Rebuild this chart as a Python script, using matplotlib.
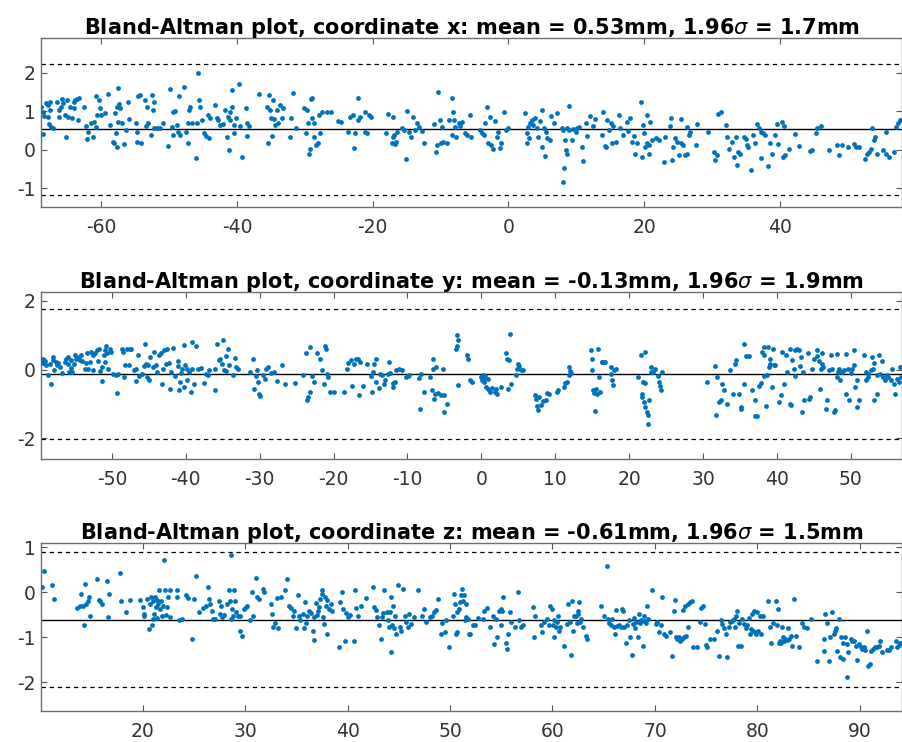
import matplotlib
matplotlib.use("Agg")
import matplotlib.pyplot as plt

plt.rcParams['font.family'] = ['DejaVu Sans']
plt.rcParams['axes.unicode_minus'] = False

pts_x = [
    (-68.9, 1.12), (-68.6, 0.99), (-68.4, 0.88), (-68.1, 1.21), (-67.8, 1.17), (-67.6, 1.23), (-67.5, 1.03),
    (-68.6, 0.41), (-67.9, 0.84), (-67.7, 0.67), (-67.4, 0.6), (-67.1, 0.58), (-66.6, 1.25), (-66.2, 1.03),
    (-66.0, 1.12), (-66.3, 0.86), (-65.8, 1.31), (-65.6, 1.21), (-65.3, 0.9), (-65.2, 0.34), (-65.1, 1.3),
    (-64.9, 0.86), (-64.6, 1.12), (-64.4, 0.82), (-64.1, 1.25), (-63.9, 1.3), (-63.6, 1.33), (-63.3, 1.34),
    (-64.0, 1.08), (-63.5, 0.77), (-62.5, 1.1), (-62.3, 0.62), (-62.1, 0.27), (-61.9, 0.47), (-61.6, 0.7),
    (-61.3, 0.34), (-61.1, 0.73), (-60.8, 1.4), (-60.7, 0.9), (-60.4, 1.3), (-60.2, 1.08), (-60.0, 0.9),
    (-60.8, 0.6), (-59.4, 0.95), (-59.0, 1.44), (-58.7, 0.64), (-58.3, 0.21), (-58.1, 0.17), (-58.0, 0.95),
    (-57.7, 1.12), (-57.6, 1.6), (-57.4, 1.2), (-57.7, 0.08), (-57.8, 0.44), (-57.2, 1.08), (-57.5, 0.73),
    (-56.9, 0.69), (-56.6, 0.15), (-56.3, 0.51), (-56.0, 1.23), (-55.9, 0.79), (-54.9, 0.69), (-54.8, 0.47),
    (-54.6, 1.4), (-54.3, 1.43), (-54.7, 0.21), (-54.1, 0.18), (-53.6, 1.3), (-53.3, 1.12), (-53.4, 0.62),
    (-53.1, 0.7), (-52.7, 0.38), (-52.6, 1.43), (-52.4, 1.03), (-52.3, 1.25), (-52.2, 0.56), (-51.8, 0.56),
    (-51.4, 0.56), (-50.9, 0.69), (-50.2, 0.1), (-49.9, 1.57), (-49.6, 0.6), (-49.5, 0.38), (-49.4, 0.99),
    (-49.1, 1.02), (-48.9, 0.64), (-48.7, 0.47), (-48.5, 1.4), (-48.4, 0.38), (-47.8, 1.64), (-47.5, 0.47),
    (-47.3, 0.17), (-47.2, 0.69), (-47.1, 1.03), (-46.9, 1.12), (-46.7, 0.7), (-46.1, -0.21), (-45.9, 0.7),
    (-45.7, 2.0), (-45.6, 1.3), (-45.5, 1.1), (-45.2, 0.77), (-44.9, 0.43), (-44.6, 0.36), (-44.3, 0.9),
    (-44.2, 0.3), (-44.0, 0.82), (-43.2, 1.17), (-43.0, 0.82), (-42.8, 0.77), (-42.5, 0.64), (-42.1, 0.67),
    (-41.8, 1.03), (-41.5, 0.34), (-41.4, 0.86), (-41.2, 0.01), (-41.1, 0.99), (-41.0, 0.77), (-40.8, 1.12),
    (-40.7, 1.54), (-40.5, 0.64), (-40.4, 0.44), (-40.1, 0.82), (-39.7, 1.7), (-39.5, 0.62), (-39.3, -0.18),
    (-38.7, 1.08), (-38.6, 0.36), (-38.5, 0.7), (-38.2, 0.62), (-36.7, 1.45), (-35.6, 1.1), (-35.5, 0.17),
    (-35.3, 1.43), (-35.1, 1.03), (-35.0, 0.82), (-34.8, 0.36), (-34.7, 1.3), (-34.5, 0.79), (-34.4, 0.64),
    (-34.1, 1.03), (-33.9, 0.69), (-33.7, 1.17), (-33.4, 0.82), (-33.2, 1.08), (-32.2, 0.34), (-32.0, 0.82),
    (-31.7, 1.47), (-31.3, 0.56), (-30.1, 1.08), (-29.8, 0.44), (-29.7, 1.03), (-29.6, 0.69), (-29.4, -0.11),
    (-29.3, 0.03), (-29.1, 1.31), (-29.0, 1.34), (-28.9, 0.82), (-28.7, 0.34), (-28.6, 0.7), (-28.4, 0.12),
    (-28.0, 0.18), (-27.9, 0.9), (-27.7, 0.44), (-27.4, 0.99), (-26.8, 0.99), (-26.1, 0.97), (-25.1, 0.76),
    (-24.6, 0.73), (-23.6, 0.47), (-23.4, 0.84), (-22.9, 0.9), (-22.8, 0.05), (-22.6, 0.44), (-22.2, 1.34),
    (-22.1, 0.77), (-21.8, 0.86), (-21.2, 0.47), (-21.1, 0.99), (-20.9, 0.43), (-20.6, 0.9), (-20.3, 0.86),
    (-18.0, 0.44), (-17.8, 0.92), (-17.2, 0.18), (-17.0, 0.86), (-17.0, 0.34), (-16.8, 0.38), (-16.7, 0.15),
    (-16.5, 0.21), (-16.4, 0.47), (-15.7, 0.58), (-15.4, 0.51), (-15.1, -0.23), (-14.9, 1.0), (-14.7, 0.47),
    (-14.4, 0.34), (-14.0, 0.84), (-13.8, 0.51), (-13.4, 0.7), (-13.1, 0.6), (-12.8, 0.5), (-12.4, 0.17),
    (-11.0, 0.67), (-10.6, -0.05), (-10.5, 0.12), (-10.3, 1.49), (-10.1, 0.77), (-10.0, 0.17), (-9.8, 0.6),
    (-9.6, 0.21), (-9.1, 0.17), (-8.8, 0.77),
    (-8.3, 1.34), (-8.2, 0.99), (-8.0, 0.77), (-7.8, 0.6), (-8.3, 0.38), (-7.7, 0.34), (-7.3, 0.69),
    (-7.1, 0.62), (-6.8, 0.73), (-6.4, 0.43), (-6.1, 0.38), (-5.7, 0.9), (-5.5, 0.34), (-4.2, 0.51),
    (-3.9, 0.44), (-3.6, 0.38), (-3.4, 0.69), (-3.1, 1.12), (-3.0, 0.17), (-2.7, 0.86), (-2.6, 0.12),
    (-2.3, 0.03), (-2.0, 0.76), (-1.7, 0.34), (-1.5, 0.47), (-1.2, 0.05), (-1.1, 0.17), (-0.7, 0.99),
    (-0.4, 0.51), (0.0, 0.56), (2.5, 0.95), (2.7, 0.43), (2.8, 0.17), (2.9, 0.6), (3.1, 0.3), (3.2, 0.7),
    (3.5, 0.77), (3.7, 0.64), (3.9, 0.82), (4.2, 0.56), (4.4, 0.34), (4.6, 0.76), (4.9, 0.08), (5.0, 1.03),
    (5.2, 0.56), (5.4, -0.17), (5.6, 0.47), (5.7, 0.3), (6.2, 0.25), (6.3, 0.88), (6.7, 0.7), (7.2, 0.95),
    (7.9, 0.56), (8.1, 0.51), (8.2, -0.46), (8.1, -0.83), (8.4, 0.25), (8.5, -0.01), (8.6, -0.1), (8.7, 0.56),
    (8.9, 1.14), (9.0, 0.51), (9.4, 0.25), (9.6, 0.53), (9.9, 0.47), (10.1, 0.56), (10.4, 0.6), (10.9, 0.08),
    (11.0, -0.3), (11.4, 0.69), (11.6, 0.36), (12.1, 0.88), (12.5, 0.62), (12.7, 0.79), (13.8, 0.38),
    (14.0, 0.99), (14.2, 0.1), (14.4, 0.08), (14.6, 0.77), (14.9, 0.51), (15.2, 0.69), (15.3, 0.18),
    (15.5, 0.62), (15.9, 0.21), (16.3, 0.9), (16.5, 0.56), (16.9, 0.38), (17.5, 0.73), (17.7, 0.49),
    (17.9, 0.82), (18.3, 0.21), (18.5, 0.36), (18.6, -0.1), (18.9, 0.17), (19.5, 1.23), (19.7, -0.18),
    (19.9, 0.64), (20.0, 0.44), (20.2, 0.08), (20.4, 0.17), (20.5, 0.9), (20.7, 0.12), (20.8, -0.1),
    (20.9, 0.73), (21.2, 0.25), (21.7, 0.3), (22.2, 0.25), (22.9, -0.31), (23.1, 0.34), (23.9, 0.62),
    (24.0, 0.82), (24.1, -0.25), (24.3, 0.08), (24.5, 0.3), (24.9, 0.21), (25.1, -0.14), (25.4, 0.79),
    (25.5, 0.17), (25.8, 0.12), (26.1, -0.14), (26.3, 0.6), (26.4, -0.11), (26.6, 0.38), (26.8, 0.47),
    (27.7, 0.12), (27.8, 0.67), (29.5, 0.47), (30.3, -0.05), (30.5, -0.27), (30.7, -0.14), (30.9, 0.93),
    (31.3, 0.97), (32.1, 0.64), (32.2, 0.34), (32.6, 0.03), (32.9, 0.21), (33.2, -0.18), (33.5, 0.34),
    (33.7, -0.4), (33.8, -0.05), (34.1, -0.1), (34.7, 0.34), (35.0, 0.27), (35.2, 0.12), (35.4, 0.08),
    (35.8, -0.53), (36.0, 0.38), (36.3, 0.17), (36.7, 0.67), (36.9, 0.56), (37.2, 0.47), (37.3, -0.2),
    (37.5, 0.43), (37.8, 0.38), (38.3, -0.43), (38.6, 0.17), (38.9, -0.11), (39.3, 0.38), (39.6, 0.67),
    (39.8, 0.15), (40.3, 0.73), (40.5, -0.18), (40.6, 0.62), (40.8, -0.14), (41.3, 0.03), (42.3, 0.41),
    (42.8, 0.1), (44.4, -0.03), (44.8, 0.01), (45.3, 0.43), (45.5, 0.56), (46.1, 0.62), (47.2, 0.01),
    (48.5, 0.12), (48.7, -0.14), (49.2, 0.12), (50.0, 0.08), (50.9, 0.15), (51.2, 0.08), (51.7, 0.08),
    (52.6, -0.23), (52.9, -0.1), (53.1, -0.05), (53.4, 0.03), (53.6, 0.58), (53.9, 0.25), (54.1, 0.34),
    (54.3, -0.1), (55.3, 0.01), (55.6, -0.1), (55.7, 0.47), (56.1, -0.18), (56.8, -0.05), (57.2, 0.6),
    (57.5, 0.69), (57.8, 0.77),
]

pts_y = [
    (-59.4, 0.22), (-59.3, 0.32), (-59.3, 0.19), (-59.1, 0.25), (-58.9, 0.13), (-58.6, -0.17), (-58.4, 0.17),
    (-58.2, -0.41), (-58.0, 0.37), (-57.95, 0.27), (-57.8, -0.02), (-57.6, 0.22), (-57.5, 0.13), (-57.3, 0.19),
    (-57.0, 0.08), (-56.8, -0.1), (-56.4, 0.22), (-56.2, 0.32), (-56.0, 0.16), (-55.9, 0.37), (-55.8, -0.07),
    (-55.6, 0.06), (-55.5, 0.27), (-55.4, -0.07), (-55.2, 0.16), (-55.0, 0.42), (-54.8, 0.32), (-54.5, 0.37),
    (-54.3, 0.29), (-54.2, 0.42), (-54.0, 0.25), (-53.7, 0.03), (-53.5, 0.19), (-53.4, 0.47), (-53.2, 0.03),
    (-52.95, 0.22), (-52.8, 0.51), (-52.6, 0.42), (-52.5, -0.02), (-52.3, 0.47), (-52.0, 0.56), (-51.9, 0.25),
    (-51.8, 0.61), (-51.6, -0.04), (-51.4, 0.08), (-51.3, -0.33), (-51.1, 0.42), (-51.0, 0.22), (-50.9, 0.56),
    (-50.8, 0.68), (-50.6, 0.49), (-50.5, 0.03), (-50.3, 0.61), (-50.1, 0.51), (-49.8, -0.14), (-49.5, -0.17),
    (-49.3, -0.68), (-49.2, -0.12), (-48.7, 0.61), (-48.5, 0.51), (-48.3, -0.21), (-48.2, 0.13), (-48.0, 0.61),
    (-47.7, 0.13), (-47.6, 0.61), (-47.4, 0.61), (-47.0, 0.0), (-46.8, 0.03), (-46.7, -0.33), (-46.5, 0.42),
    (-46.3, -0.19), (-45.9, -0.12), (-45.7, 0.1), (-45.5, 0.74), (-45.45, 0.17), (-45.2, -0.21), (-45.1, 0.13),
    (-45.0, -0.31), (-44.9, 0.37), (-44.5, 0.08), (-44.3, 0.51), (-44.1, 0.13), (-43.9, -0.07), (-43.6, 0.42),
    (-43.4, 0.47), (-43.2, -0.43), (-43.1, 0.03), (-42.95, 0.56), (-42.7, 0.16), (-42.5, 0.61), (-42.3, 0.19),
    (-42.2, -0.55), (-42.0, -0.07), (-41.8, 0.64), (-41.4, -0.19), (-41.1, 0.1), (-41.0, 0.25), (-40.9, -0.6),
    (-40.8, -0.36), (-40.7, -0.1), (-40.5, 0.03), (-40.3, 0.71), (-40.2, -0.5), (-40.1, 0.13), (-39.9, -0.31),
    (-39.8, 0.03), (-39.5, -0.07), (-39.3, -0.65), (-39.2, 0.81), (-39.1, 0.03), (-38.9, -0.41), (-38.6, 0.68),
    (-38.3, 0.03), (-38.0, 0.06), (-37.6, -0.39), (-37.3, -0.12), (-37.0, -0.17), (-36.9, 0.0), (-36.1, 0.03),
    (-36.0, -0.58), (-35.8, 0.74), (-35.5, 0.27), (-35.4, 0.32), (-35.1, 0.16), (-34.9, 0.87), (-34.8, -0.02),
    (-34.6, 0.39), (-34.5, -0.04), (-34.3, 0.61), (-34.1, 0.13), (-33.6, -0.17), (-33.4, 0.35), (-33.2, 0.08),
    (-33.0, 0.03), (-31.3, -0.07), (-30.9, 0.32), (-30.8, -0.55), (-30.5, -0.19), (-30.4, -0.02), (-30.2, -0.36),
    (-30.05, -0.7), (-30.0, -0.78), (-29.5, -0.17), (-29.3, -0.26), (-29.1, 0.03), (-28.9, 0.08), (-28.5, -0.1),
    (-28.1, -0.07), (-27.7, -0.33), (-27.0, 0.13), (-26.6, -0.41), (-25.2, -0.39), (-24.1, -0.17), (-23.7, 0.47),
    (-23.6, -0.89), (-23.5, -0.8), (-23.2, 0.66), (-23.2, -0.65), (-22.95, -0.19), (-22.7, -0.36), (-22.3, 0.47),
    (-21.9, 0.32), (-21.5, -0.02), (-21.3, -0.43), (-21.1, 0.68), (-21.0, 0.61), (-20.9, -0.12), (-20.7, -0.21),
    (-20.5, -0.65), (-20.0, -0.65), (-18.6, -0.65), (-18.2, 0.03), (-18.0, 0.19), (-17.7, 0.27), (-17.5, -0.49),
    (-17.3, 0.17), (-16.9, 0.32), (-16.7, 0.32), (-16.6, -0.75), (-16.4, 0.22), (-16.0, -0.49), (-15.5, 0.16),
    (-14.9, -0.19), (-14.8, -0.65), (-14.6, -0.07), (-14.5, 0.17), (-14.3, 0.32), (-14.2, -0.36), (-13.9, -0.52),
    (-13.7, -0.12), (-13.5, -0.17), (-13.2, -0.41), (-13.0, -0.31), (-12.7, -0.12), (-12.5, 0.22), (-12.3, -0.1),
    (-12.0, -0.39), (-11.9, -0.5), (-11.7, -0.36), (-11.5, -0.02), (-11.1, 0.03), (-10.8, 0.0), (-10.2, -0.21),
    (-9.9, -0.19), (-9.8, -0.17), (-8.5, -0.23), (-8.3, -1.14), (-8.1, -0.12), (-7.8, -0.65), (-6.9, -0.21),
    (-6.7, -0.6), (-6.6, 0.32), (-6.5, 0.03), (-6.4, -0.84), (-6.3, -0.72), (-6.1, 0.08), (-5.9, -0.68),
    (-5.5, -0.75), (-5.2, 0.03), (-5.1, -1.23), (-5.0, -0.75), (-4.6, -0.99),
    (-3.3, 1.0), (-3.2, 0.85), (-3.3, 0.68), (-3.4, 0.61), (-3.2, -0.46), (-1.9, 0.42), (-1.8, 0.32),
    (-1.6, -0.31), (-1.3, -0.36), (0.0, -0.21), (0.05, -0.31), (0.2, -0.17), (0.3, -0.26), (0.4, -0.36),
    (0.5, -0.19), (0.6, -0.5), (0.9, -0.55), (0.95, -0.26), (1.2, -0.65), (1.5, -0.52), (1.8, -0.65),
    (2.0, -0.55), (2.1, -0.7), (2.6, -0.5), (3.3, 0.47), (3.5, 0.32), (3.6, -0.55), (3.8, 0.27), (3.9, 1.05),
    (4.0, -0.41), (4.7, -0.17), (4.8, 0.03), (5.0, 0.17), (5.1, 0.1), (5.4, 0.0), (5.6, -0.02),
    (7.2, -0.75), (7.4, -0.84), (7.5, -1.06), (7.7, -1.17), (7.8, -0.8), (8.1, -1.04), (8.3, -0.91),
    (8.7, -0.89), (8.9, -0.68), (9.2, -0.72), (10.2, -0.65), (10.4, -0.58), (11.2, -0.5), (11.3, -0.39),
    (11.6, -0.36), (11.8, -0.17), (11.9, 0.08), (12.0, -0.04), (12.1, -0.1),
    (14.8, 0.58), (15.0, 0.32), (15.0, -0.02), (15.1, -0.6), (15.2, -0.68), (15.4, -1.2), (15.5, -0.55),
    (15.6, -0.72), (15.8, 0.61), (15.9, -0.21), (16.1, -0.65), (16.3, 0.22), (16.4, 0.22), (16.6, 0.22),
    (16.8, 0.22), (17.5, 0.08), (17.6, -0.12), (17.7, -0.29), (17.8, -0.44), (18.0, -0.02), (18.2, 0.03),
    (21.2, -0.21), (21.6, 0.42), (21.7, -0.7), (21.8, -0.8), (21.9, -0.36), (22.0, -0.94), (22.1, 0.51),
    (22.2, -1.09), (22.2, -0.39), (22.4, -1.23), (22.5, -1.57), (22.6, -1.33), (22.7, -0.89), (22.9, -0.07),
    (23.0, 0.08), (23.2, -0.07), (23.5, 0.03), (23.9, -0.19), (24.1, -0.36), (24.2, -0.49), (24.3, -0.6),
    (24.4, -0.07),
    (30.5, -0.36), (31.6, 0.1), (31.7, -1.33), (31.9, -0.21), (32.2, -0.94), (32.4, -0.89), (32.6, -0.41),
    (32.8, -0.58), (33.2, -1.01), (33.7, 0.0), (34.1, -0.72), (34.3, 0.17), (34.5, 0.27), (34.9, -0.72),
    (35.1, -1.09), (35.2, -1.14), (35.5, -0.41), (35.5, 0.74), (35.8, 0.39), (36.2, 0.39), (36.7, -0.6),
    (37.0, -0.87), (37.1, -1.36), (37.3, -1.36), (37.6, -0.49), (37.8, -0.39), (38.0, 0.51), (38.2, 0.66),
    (38.2, 0.42), (38.3, -0.19), (38.5, -1.07), (38.6, -0.17), (38.8, 0.66), (38.9, 0.08), (39.1, 0.32),
    (39.1, 0.17), (39.4, -0.5), (39.5, 0.61), (39.6, 0.13), (39.8, 0.13), (40.3, -0.94), (40.5, -0.75),
    (40.7, 0.51), (40.9, -0.43), (41.2, 0.42), (41.4, -0.07), (41.8, -0.99), (41.8, 0.61), (41.9, -1.04),
    (42.1, 0.27), (42.3, 0.03), (42.4, 0.56), (42.5, -0.19), (42.7, 0.61), (43.0, 0.56), (43.1, 0.1),
    (43.2, 0.37), (43.4, -1.23), (43.6, -0.07), (43.7, -0.89), (44.2, 0.47), (44.3, -0.84), (44.5, -0.8),
    (44.8, 0.03), (45.0, 0.32), (45.4, 0.58), (45.5, 0.39), (45.7, 0.25), (45.9, -0.55), (46.0, 0.03),
    (46.1, 0.47), (46.1, 0.16), (46.3, 0.08), (46.6, -1.14), (46.8, -0.87), (47.0, -0.02), (47.3, 0.42),
    (47.5, 0.03), (47.7, -1.23), (47.9, -1.18), (48.1, -0.21), (48.2, 0.45), (48.3, -0.07), (48.4, 0.03),
    (48.6, -0.29), (48.8, -0.07), (49.1, -0.02), (49.3, 0.45), (49.4, -0.7), (49.6, 0.03), (49.7, -0.89),
    (50.0, -0.1), (50.2, 0.03), (50.4, 0.13), (50.5, 0.58), (50.6, -0.5), (50.8, -0.31), (50.9, -1.09),
    (51.1, -0.87), (51.8, 0.42), (52.0, -0.07), (52.1, -0.31), (52.3, -0.21), (52.4, -0.12), (52.7, -0.02),
    (52.9, 0.37), (53.0, 0.03), (53.1, -0.87), (53.2, 0.19), (53.5, -0.7), (53.6, -0.17), (53.8, 0.42),
    (54.0, -0.12), (54.2, 0.25), (54.3, -0.21), (54.7, -0.31), (54.9, -0.17), (55.1, -0.21), (55.4, -0.31),
    (55.6, 0.03), (55.8, -0.41), (56.0, -0.72), (56.3, -0.26), (56.5, -0.36), (56.7, 0.08), (56.8, -0.21),
]

pts_z = [
    (10.2, 0.11), (10.4, 0.46), (11.1, 0.15), (11.3, -0.15), (13.6, -0.36), (13.9, -0.32), (14.0, -0.05),
    (14.2, -0.3), (14.3, -0.74), (14.4, 0.19), (14.5, -0.26), (14.7, -0.19), (14.8, -0.11), (14.9, -0.52),
    (15.5, 0.28), (15.7, -0.17), (15.8, -0.19), (16.0, -0.26), (16.5, 0.25), (16.6, -0.56), (16.7, -0.05),
    (17.8, 0.42), (17.9, -0.19), (18.4, -0.45), (18.8, -0.17), (19.7, -0.17), (20.0, -0.33), (20.1, -0.48),
    (20.1, -0.54), (20.4, -0.15), (20.6, -0.82), (20.7, -0.26), (20.8, -0.11), (20.9, -0.74), (21.0, -0.59),
    (21.0, -0.19), (21.1, -0.48), (21.2, -0.1), (21.3, -0.33), (21.4, -0.57), (21.4, -0.17), (21.5, -0.26),
    (21.6, 0.05), (21.7, -0.37), (21.8, -0.19), (21.9, -0.54), (22.0, -0.32), (22.1, 0.71), (22.2, 0.04),
    (22.3, -0.5), (22.4, -0.33), (22.5, -0.1), (22.7, 0.05), (22.7, -0.56), (23.3, 0.04), (23.3, -0.1),
    (23.5, -0.63), (23.8, -0.59), (24.2, -0.07), (24.4, -0.13), (24.8, -1.04), (25.0, -0.15), (25.2, 0.35),
    (25.5, -0.45), (25.9, -0.35), (26.2, -0.3), (26.4, 0.11), (26.5, -0.15), (26.6, -0.26), (26.8, -0.41),
    (26.9, -0.59), (27.1, -0.59), (27.4, -0.19), (27.5, -0.48), (27.6, -0.3), (27.7, -0.56), (27.9, -0.5),
    (28.2, -0.26), (28.4, 0.04), (28.5, -0.19), (28.6, 0.82), (28.6, -0.59), (28.7, -0.37), (28.8, -0.52),
    (28.9, 0.05), (29.0, -0.19), (29.1, -0.45), (29.3, -0.52), (29.5, -0.52), (29.5, -0.86), (29.7, -0.97),
    (29.9, -0.37), (30.1, -0.33), (30.2, -0.32), (30.5, -0.62), (30.7, 0.0), (30.8, -0.52), (31.1, 0.32),
    (31.2, -0.11), (31.4, -0.15), (31.7, 0.07), (31.8, 0.0), (32.5, -0.26), (32.6, -0.48), (32.7, -0.77),
    (32.9, -0.69), (33.1, -0.13), (33.2, -0.8), (33.5, -0.11), (33.9, 0.04), (34.1, 0.28), (34.3, -0.3),
    (34.5, -0.35), (34.7, -0.54), (34.8, -0.41), (35.0, -0.8), (35.2, -0.07), (35.3, -0.54), (35.4, -0.62),
    (35.6, -0.48), (35.7, -0.8), (35.8, -0.22), (35.9, -0.69), (36.0, -0.54), (36.2, -0.41), (36.4, -0.47),
    (36.6, -0.86), (36.7, -1.06), (36.7, -0.56), (36.9, -0.25), (37.0, -0.5), (37.1, -0.41), (37.2, -0.33),
    (37.3, -0.15), (37.5, -0.04), (37.5, 0.05), (37.6, -0.56), (37.7, -0.71), (37.8, -0.1), (37.9, -0.3),
    (38.0, -0.94), (38.0, -0.17), (38.2, -0.37), (38.4, -0.26), (38.5, -0.41), (39.2, -1.23), (39.3, -0.22),
    (39.5, 0.0), (39.6, -0.37), (39.7, -1.08), (39.8, -0.47), (40.0, -0.56), (40.2, -0.5), (40.6, -1.08),
    (40.7, 0.04), (40.8, -0.35), (41.0, -0.54), (41.3, -0.3), (41.8, -0.13), (42.5, 0.11), (42.6, -0.33),
    (42.8, -0.39), (42.9, -0.56), (43.1, -0.74), (43.3, -1.04), (43.4, -0.56), (43.5, -0.47), (43.6, 0.04),
    (43.8, -0.45), (43.9, -0.62), (44.0, -0.78), (44.1, -0.45), (44.2, -0.1), (44.2, -1.34), (44.3, -0.74),
    (44.4, -0.3), (44.5, -0.8), (44.6, -0.52), (44.7, -0.93), (44.9, 0.15), (45.1, -0.77), (45.2, -0.86),
    (45.4, 0.07), (45.6, -0.52), (45.7, -0.67), (45.9, -0.78), (46.0, -0.48), (46.2, -0.71), (46.5, -0.56),
    (46.9, 0.04), (47.3, -0.52), (47.5, -0.37), (47.7, -0.67), (48.0, -0.56), (48.2, -0.54), (48.4, -0.45),
    (48.6, -0.39), (48.8, -0.15), (49.1, -0.93), (49.2, -0.69), (49.5, -0.89), (49.6, -0.63), (49.9, -1.23),
    (50.25, -0.52), (50.4, -0.04), (50.5, -0.26), (50.6, -0.94), (50.7, -0.45), (50.7, -0.89), (50.9, -0.37),
    (51.0, -0.22), (51.1, -0.07), (51.2, 0.07), (51.3, -0.19), (51.4, -0.07), (51.5, -0.63), (51.55, -0.26),
    (51.6, -0.56), (51.8, -0.59), (51.9, -0.93), (52.0, -0.94), (52.2, -0.74), (52.4, -0.74), (52.7, -0.57),
    (53.2, -0.59), (53.3, -0.41), (53.6, -0.35), (53.9, -0.78), (54.2, -0.52), (54.3, -1.15), (54.5, -0.59),
    (54.6, -0.99), (54.8, -0.42), (55.0, -0.37), (55.0, -0.74), (55.1, -0.41), (55.2, -0.11), (55.45, -1.12),
    (55.55, -1.26), (55.7, -0.94), (55.9, -0.45), (56.0, -0.67), (56.3, -0.78), (56.6, 0.0), (56.75, -0.62),
    (56.9, -0.78), (57.1, -0.74), (58.15, -0.33), (58.2, -1.0), (58.3, -0.52), (58.9, -0.74), (59.0, -0.89),
    (59.2, -0.67), (59.5, -0.59), (59.7, -0.74), (59.8, -0.3), (60.0, -0.37), (60.1, -0.74), (60.2, -0.63),
    (60.2, -1.0), (60.3, -0.78), (60.4, -0.67), (60.5, -0.52), (60.65, -0.86), (60.75, -0.77), (61.1, -1.19),
    (61.4, -0.71), (61.5, -0.26), (61.7, -0.67), (61.85, -1.39), (61.95, -0.19), (62.05, -0.86), (62.1, -0.54),
    (62.3, -0.52), (62.4, -0.69), (62.45, -0.41), (62.5, -0.48), (62.6, -0.22), (62.7, -0.67), (62.8, -0.59),
    (63.0, -0.78), (63.25, -0.97), (63.4, -1.04), (64.7, -0.3), (65.0, -0.52), (65.3, 0.59), (65.4, -0.59),
    (65.5, -0.69), (65.7, -0.74), (65.85, -0.59), (66.0, -0.78), (66.1, -0.94), (66.2, -0.39), (66.3, -0.76),
    (66.5, -0.74), (66.7, -0.78), (66.8, -0.37), (66.9, -0.42), (67.0, -0.78), (67.15, -1.12), (67.3, -0.74),
    (67.5, -0.63), (67.6, -1.0), (67.8, -1.39), (67.9, -0.71), (68.0, -0.57), (68.1, -0.8), (68.2, -0.67),
    (68.35, -0.99), (68.45, -0.48), (68.55, -0.69), (68.6, -0.62), (68.8, -1.19), (68.9, -0.65), (68.9, -0.52),
    (69.1, -0.69), (69.2, -0.3), (69.3, -0.59), (69.75, 0.05), (70.1, -0.71), (70.25, -0.67), (70.4, -0.89),
    (70.55, -0.74), (70.7, -0.1), (70.9, -0.93), (71.1, -0.97), (71.5, -0.89), (71.7, -1.41), (71.9, -0.42),
    (72.0, -0.17), (72.1, -0.99), (72.2, -1.04), (72.35, -1.0), (72.45, -1.08), (72.6, -1.04), (72.7, -0.39),
    (72.8, -1.0), (72.9, -0.32), (73.0, -0.97), (73.2, -0.77), (73.2, -0.26), (73.4, -0.22), (73.65, -0.19),
    (73.75, -1.21), (74.1, -1.23), (74.4, -0.67), (74.5, -0.35), (74.7, -0.3), (74.85, -0.71), (74.95, -1.17),
    (75.1, -1.23), (75.4, -1.04), (75.8, -1.04), (76.1, -0.86), (76.25, -1.41), (76.5, -0.62), (76.6, -0.71),
    (76.7, -0.8), (76.9, -0.93), (77.0, -1.45), (77.2, -0.77), (77.3, -0.67), (77.55, -0.65), (77.7, -0.59),
    (77.8, -0.78), (77.9, -0.54), (78.0, -0.41), (78.1, -1.19), (78.2, -0.69), (78.4, -1.19), (78.5, -0.59),
    (78.7, -0.71), (78.85, -0.8), (79.0, -0.72), (79.2, -0.57), (79.3, -0.93), (79.4, -0.82), (79.5, -0.48),
    (79.6, -0.86), (79.7, -0.41), (79.8, -0.89), (79.9, -0.93), (80.0, -0.45), (80.05, -0.87), (80.25, -0.54),
    (80.4, -0.93), (80.6, -0.52), (81.0, -0.19), (81.2, -0.78), (81.35, -1.12), (81.55, -0.69), (81.8, -0.19),
    (81.9, -0.74), (82.0, -0.37), (82.1, -1.12), (82.2, -1.08), (82.3, -1.12), (82.4, -0.78), (82.5, -1.0),
    (82.6, -1.09), (82.75, -1.04), (82.9, -1.06), (83.0, -0.8), (83.1, -1.04), (83.25, -0.97), (83.4, -1.19),
    (83.6, -0.15), (83.8, -0.97), (84.05, -1.21), (84.4, -0.69), (84.6, -0.78), (84.85, -0.8), (85.2, -0.59),
    (85.8, -1.52), (86.5, -1.04), (86.55, -1.3), (86.65, -0.48), (86.8, -0.69), (87.0, -1.54), (87.1, -0.99),
    (87.3, -0.45), (87.5, -0.93), (87.6, -0.86), (87.7, -0.8), (87.8, -1.3), (87.95, -0.59), (88.1, -1.45),
    (88.2, -1.0), (88.4, -1.12), (88.4, -1.49), (88.6, -0.99), (88.75, -1.15), (88.8, -1.88), (88.9, -1.34),
    (89.1, -1.04), (89.25, -1.08), (89.4, -1.08), (89.6, -1.19), (89.75, -1.51), (89.9, -1.15), (90.1, -1.21),
    (90.2, -1.26), (90.4, -1.23), (90.55, -1.29), (90.7, -0.86), (90.8, -1.64), (91.0, -1.59), (91.1, -1.3),
    (91.3, -1.26), (91.5, -1.21), (91.7, -1.23), (91.85, -1.19), (92.0, -1.09), (92.2, -1.34), (92.7, -1.29),
    (92.9, -1.29), (93.05, -1.21), (93.5, -1.08), (93.6, -1.23), (93.8, -1.17), (93.9, -1.12),
]

coords = ['x', 'y', 'z']
means = [0.53, -0.13, -0.61]
limits = [1.7, 1.9, 1.5]          # 1.96 sigma
xlims = [(-68.9, 58.1), (-59.6, 57.0), (10.07, 94.17)]
ylims = [(-1.48, 2.9), (-2.6, 2.26), (-2.64, 1.09)]
xticks = [range(-60, 41, 20), range(-50, 51, 10), range(20, 91, 10)]
yticks = [[-1, 0, 1, 2], [-2, 0, 2], [-2, -1, 0, 1]]

fig = plt.figure(figsize=(9.03, 7.42), dpi=100)
boxes = [[0.0454, 0.721, 0.954, 0.2278],
         [0.0454, 0.3814, 0.954, 0.2251],
         [0.0454, 0.0418, 0.954, 0.2264]]

for i, pts in enumerate([pts_x, pts_y, pts_z]):
    ax = fig.add_axes(boxes[i])
    xs = [p[0] for p in pts]
    ds = [p[1] for p in pts]
    ax.scatter(xs, ds, s=12, color='#0072BD', linewidths=0, zorder=3)
    ax.axhline(means[i], color='black', lw=1.0, zorder=2)
    ax.axhline(means[i] + limits[i], color='black', lw=0.9, ls=(0, (3.5, 3)), zorder=2)
    ax.axhline(means[i] - limits[i], color='black', lw=0.9, ls=(0, (3.5, 3)), zorder=2)
    ax.set_xlim(*xlims[i])
    ax.set_ylim(*ylims[i])
    ax.set_xticks(list(xticks[i]))
    ax.set_yticks(yticks[i])
    ax.tick_params(direction='in', length=4, width=0.8, colors='#555555', labelcolor='#333333',
                   labelsize=13.5, top=True, right=True)
    ax.tick_params(axis='x', pad=8)
    ax.tick_params(axis='y', pad=4)
    for sp in ax.spines.values():
        sp.set_color('#6e6e6e')
        sp.set_linewidth(1.0)
    ax.set_title('Bland-Altman plot, coordinate %s: mean = %smm, 1.96$\\sigma$ = %smm'
                 % (coords[i], f'{means[i]:.2f}', limits[i]),
                 fontsize=15, fontweight='bold', pad=3)

fig.savefig('out.png', dpi=100)
